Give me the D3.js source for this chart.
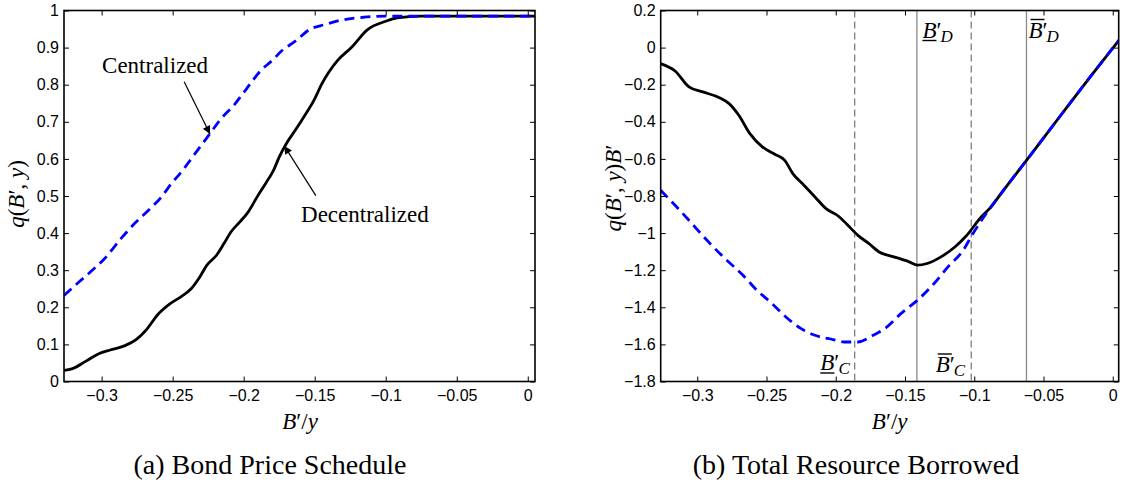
<!DOCTYPE html>
<html>
<head>
<meta charset="utf-8">
<script src="https://cdn.jsdelivr.net/npm/d3@7"></script>
<style>
  body { margin: 0; background: #fff; }
</style>
</head>
<body>
<svg id="chart"></svg>
<script>
// ---- values ----
const shareTicks = [-0.3, -0.25, -0.2, -0.15, -0.1, -0.05, 0];   // B'/y
const priceTicks = [0, 0.1, 0.2, 0.3, 0.4, 0.5, 0.6, 0.7, 0.8, 0.9, 1];
const borrowTicks = [-1.8, -1.6, -1.4, -1.2, -1, -0.8, -0.6, -0.4, -0.2, 0, 0.2];

// panel (a): bond price q(B',y), [B'/y, q]
const priceDecentralized = [
  [-0.3265, 0.030], [-0.321, 0.034], [-0.311, 0.055], [-0.302, 0.075], [-0.294, 0.085],
  [-0.284, 0.096], [-0.276, 0.112], [-0.268, 0.142], [-0.261, 0.178], [-0.252, 0.209],
  [-0.244, 0.229], [-0.237, 0.250], [-0.231, 0.281], [-0.226, 0.313], [-0.219, 0.341],
  [-0.214, 0.371], [-0.209, 0.403], [-0.203, 0.429], [-0.197, 0.456], [-0.190, 0.501],
  [-0.184, 0.537], [-0.179, 0.569], [-0.175, 0.605], [-0.170, 0.641], [-0.163, 0.681],
  [-0.157, 0.717], [-0.150, 0.762], [-0.145, 0.802], [-0.140, 0.834], [-0.134, 0.865],
  [-0.124, 0.901], [-0.113, 0.948], [-0.100, 0.971], [-0.092, 0.980], [-0.075, 0.985],
  [0.006, 0.985]
];
const priceCentralized = [
  [-0.3265, 0.232], [-0.316, 0.268], [-0.308, 0.295], [-0.298, 0.331], [-0.286, 0.387],
  [-0.276, 0.429], [-0.266, 0.465], [-0.258, 0.497], [-0.251, 0.533], [-0.243, 0.569],
  [-0.236, 0.605], [-0.229, 0.641], [-0.223, 0.672], [-0.216, 0.708], [-0.207, 0.744],
  [-0.198, 0.789], [-0.188, 0.838], [-0.180, 0.865], [-0.173, 0.892], [-0.163, 0.919],
  [-0.154, 0.948], [-0.143, 0.962], [-0.130, 0.975], [-0.115, 0.982], [-0.100, 0.985],
  [0.006, 0.985]
];

// panel (b): total resource borrowed q(B',y)B', [B'/y, qB']
const borrowDecentralized = [
  [-0.3265, -0.086], [-0.316, -0.126], [-0.306, -0.212], [-0.296, -0.239], [-0.284, -0.270],
  [-0.277, -0.302], [-0.270, -0.365], [-0.262, -0.464], [-0.253, -0.535], [-0.244, -0.575],
  [-0.237, -0.607], [-0.231, -0.679], [-0.223, -0.742], [-0.215, -0.805], [-0.207, -0.868],
  [-0.198, -0.909], [-0.192, -0.952], [-0.184, -1.012], [-0.176, -1.057], [-0.168, -1.105],
  [-0.158, -1.128], [-0.147, -1.155], [-0.141, -1.173], [-0.134, -1.164], [-0.124, -1.128],
  [-0.114, -1.075], [-0.106, -1.017], [-0.095, -0.913], [-0.088, -0.860], [-0.080, -0.780],
  [-0.062, -0.605], [-0.036, -0.350], [-0.015, -0.146], [0.005, 0.045]
];
const borrowCentralized = [
  [-0.3265, -0.769], [-0.316, -0.850], [-0.306, -0.931], [-0.293, -1.039], [-0.280, -1.137],
  [-0.267, -1.227], [-0.257, -1.308], [-0.246, -1.380], [-0.236, -1.452], [-0.225, -1.515],
  [-0.215, -1.551], [-0.202, -1.574], [-0.194, -1.587], [-0.184, -1.587], [-0.173, -1.551],
  [-0.163, -1.506], [-0.153, -1.434], [-0.141, -1.362], [-0.129, -1.272], [-0.119, -1.182],
  [-0.108, -1.093], [-0.101, -1.003], [-0.088, -0.860], [-0.080, -0.780], [-0.062, -0.605],
  [-0.036, -0.350], [-0.015, -0.146], [0.005, 0.045]
];

// borrowing limits marked in panel (b)
const limitsCentral = [-0.1863, -0.1022];   // dashed
const limitsDecentral = [-0.1414, -0.0623]; // solid

const W = 1122, H = 484;
const plotTop = 10.5, plotBottom = 381.5;
const sans = "Liberation Sans, Arial, sans-serif";
const serif = "Liberation Serif, DejaVu Serif, serif";
const fmt = d3.format("~g");

const svg = d3.select("#chart").attr("width", W).attr("height", H)
  .style("background", "#fff");
const defs = svg.append("defs");

defs.append("marker")
  .attr("id", "arrow")
  .attr("viewBox", "0 0 10 10")
  .attr("refX", 10).attr("refY", 5)
  .attr("markerWidth", 11).attr("markerHeight", 8)
  .attr("markerUnits", "userSpaceOnUse")
  .attr("orient", "auto")
  .append("path").attr("d", "M0,0L10,5L0,10z").attr("fill", "#000");

function makePanel(id, x0, x1, xDomain, yDomain, yTicks) {
  const x = d3.scaleLinear().domain(xDomain).range([x0, x1]);
  const y = d3.scaleLinear().domain(yDomain).range([plotBottom, plotTop]);
  const g = svg.append("g");

  defs.append("clipPath").attr("id", id)
    .append("rect").attr("x", x0).attr("y", plotTop).attr("width", x1 - x0).attr("height", plotBottom - plotTop);

  const plot = g.append("g").attr("clip-path", `url(#${id})`);
  const axes = g.append("g");

  axes.append("g").attr("transform", `translate(0,${plotBottom})`)
    .call(d3.axisBottom(x).tickValues(shareTicks).tickSize(-5).tickPadding(8).tickFormat(fmt));
  axes.append("g").attr("transform", `translate(0,${plotTop})`)
    .call(d3.axisTop(x).tickValues(shareTicks).tickSize(-5).tickFormat(""));
  axes.append("g").attr("transform", `translate(${x0},0)`)
    .call(d3.axisLeft(y).tickValues(yTicks).tickSize(-5).tickPadding(5).tickFormat(fmt));
  axes.append("g").attr("transform", `translate(${x1},0)`)
    .call(d3.axisRight(y).tickValues(yTicks).tickSize(-5).tickFormat(""));

  axes.selectAll(".domain").remove();
  axes.selectAll(".tick line").attr("stroke", "#000").attr("stroke-width", 1);
  axes.selectAll("text").attr("font-family", sans).attr("font-size", 16).attr("fill", "#000");

  axes.append("rect")
    .attr("x", x0).attr("y", plotTop).attr("width", x1 - x0).attr("height", plotBottom - plotTop)
    .attr("fill", "none").attr("stroke", "#000").attr("stroke-width", 1.6);

  return { x, y, g, plot };
}

function drawCurves(p, solid, dashed) {
  const line = d3.line().x(d => p.x(d[0])).y(d => p.y(d[1])).curve(d3.curveMonotoneX);
  p.plot.append("path").datum(solid).attr("d", line)
    .attr("fill", "none").attr("stroke", "#000").attr("stroke-width", 2.8)
    .attr("stroke-linejoin", "round");
  p.plot.append("path").datum(dashed).attr("d", line)
    .attr("fill", "none").attr("stroke", "#0000ff").attr("stroke-width", 2.8)
    .attr("stroke-dasharray", "10,6");
}

// math-ish text built from tspans: [text, italic?]
function mathText(g, parts, size) {
  const t = g.append("text").attr("font-family", serif).attr("font-size", size).attr("fill", "#000");
  parts.forEach(([s, it]) => t.append("tspan").attr("font-style", it ? "italic" : "normal").text(s));
  return t;
}

// ---------- panel (a) ----------
const pa = makePanel("clipA", 64, 535, [-0.3265, 0.0051], [0, 1], priceTicks);
drawCurves(pa, priceDecentralized, priceCentralized);

mathText(pa.g, [["B", 1], ["′", 0], ["/", 0], ["y", 1]], 23)
  .attr("x", 300).attr("y", 429).attr("text-anchor", "middle");
mathText(pa.g, [["q", 1], ["(", 0], ["B", 1], ["′", 0], [", ", 0], ["y", 1], [")", 0]], 23)
  .attr("text-anchor", "middle")
  .attr("transform", "translate(24,194) rotate(-90)");

// annotations with arrows (data coordinates)
pa.g.append("text").attr("x", pa.x(-0.2997)).attr("y", pa.y(0.832))
  .attr("font-family", serif).attr("font-size", 23).text("Centralized");
pa.g.append("line")
  .attr("x1", pa.x(-0.2419)).attr("y1", pa.y(0.808))
  .attr("x2", pa.x(-0.2237)).attr("y2", pa.y(0.667))
  .attr("stroke", "#000").attr("stroke-width", 1.2).attr("marker-end", "url(#arrow)");
pa.g.append("text").attr("x", pa.x(-0.1596)).attr("y", pa.y(0.431))
  .attr("font-family", serif).attr("font-size", 23).text("Decentralized");
pa.g.append("line")
  .attr("x1", pa.x(-0.1492)).attr("y1", pa.y(0.501))
  .attr("x2", pa.x(-0.1714)).attr("y2", pa.y(0.635))
  .attr("stroke", "#000").attr("stroke-width", 1.2).attr("marker-end", "url(#arrow)");

svg.append("text").attr("x", 270).attr("y", 474).attr("text-anchor", "middle")
  .attr("font-family", serif).attr("font-size", 28).text("(a) Bond Price Schedule");

// ---------- panel (b) ----------
const pb = makePanel("clipB", 660.7, 1118.7, [-0.3264, 0.0043], [-1.8, 0.2], borrowTicks);

pb.plot.selectAll(".limC").data(limitsCentral).enter().append("line")
  .attr("x1", d => pb.x(d)).attr("x2", d => pb.x(d))
  .attr("y1", plotTop).attr("y2", plotBottom)
  .attr("stroke", "#666").attr("stroke-width", 1.1).attr("stroke-dasharray", "7,4");
pb.plot.selectAll(".limD").data(limitsDecentral).enter().append("line")
  .attr("x1", d => pb.x(d)).attr("x2", d => pb.x(d))
  .attr("y1", plotTop).attr("y2", plotBottom)
  .attr("stroke", "#888").attr("stroke-width", 1.3);

drawCurves(pb, borrowDecentralized, borrowCentralized);

// B' labels with under/over bars
function bLabel(px, py, sub, mark, side) {
  const t = pb.g.append("text").attr("y", py).attr("font-family", serif).attr("font-size", 23);
  const b = t.append("tspan").attr("font-style", "italic").text("B");
  t.append("tspan").text("′");
  t.append("tspan").attr("font-style", "italic").attr("font-size", 17).attr("dy", 4).attr("dx", -1).text(sub);
  const bw = b.node().getComputedTextLength();
  const w = t.node().getComputedTextLength();
  const sx = side === "left" ? px - w - 1 : px;
  t.attr("x", sx);
  const ly = mark === "under" ? py + 3 : py - 18;
  pb.g.append("line")
    .attr("x1", sx + (mark === "under" ? 0 : 2)).attr("x2", sx + bw + (mark === "under" ? 0 : 2))
    .attr("y1", ly).attr("y2", ly)
    .attr("stroke", "#000").attr("stroke-width", 1.4);
}
bLabel(pb.x(limitsDecentral[0]) + 5.5, 37.5, "D", "under", "right");
bLabel(pb.x(limitsDecentral[1]) + 2, 37.5, "D", "over", "right");
bLabel(pb.x(limitsCentral[0]) - 3, 370, "C", "under", "left");
bLabel(pb.x(limitsCentral[1]) - 4, 372, "C", "over", "left");

mathText(pb.g, [["B", 1], ["′", 0], ["/", 0], ["y", 1]], 23)
  .attr("x", 889.7).attr("y", 429).attr("text-anchor", "middle");
mathText(pb.g, [["q", 1], ["(", 0], ["B", 1], ["′", 0], [", ", 0], ["y", 1], [")", 0], ["B", 1], ["′", 0]], 23)
  .attr("text-anchor", "middle")
  .attr("transform", "translate(621,188) rotate(-90)");

svg.append("text").attr("x", 856).attr("y", 474).attr("text-anchor", "middle")
  .attr("font-family", serif).attr("font-size", 28).text("(b) Total Resource Borrowed");
</script>
</body>
</html>
